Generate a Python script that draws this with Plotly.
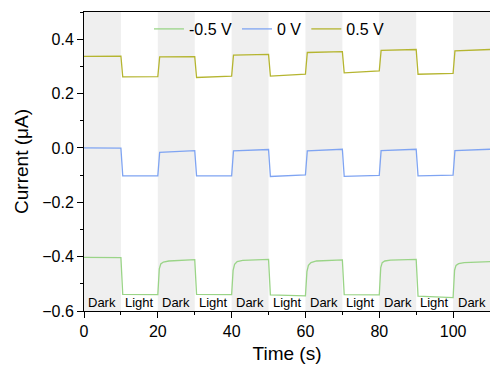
import plotly.graph_objects as go

# ---- data ----
t_main = [0, 10, 10.5, 20, 20.5, 30, 30.5, 40, 40.5, 50, 50.5, 60, 60.5, 70, 70.5, 80, 80.5, 90, 90.5, 100, 100.5, 110]
i_pos = [0.337, 0.338, 0.261, 0.262, 0.335, 0.336, 0.259, 0.264, 0.341, 0.344, 0.264, 0.271,
         0.351, 0.354, 0.276, 0.283, 0.359, 0.362, 0.271, 0.274, 0.357, 0.362]
i_zero = [0.0, -0.001, -0.103, -0.103, -0.016, -0.010, -0.103, -0.103, -0.011, -0.006, -0.105, -0.099,
          -0.011, -0.005, -0.105, -0.101, -0.010, -0.005, -0.103, -0.100, -0.010, -0.005]
t_neg = [0, 10, 10.5, 20, 20.4, 20.8, 21.5, 23, 30, 30.5, 40, 40.4, 40.8, 41.5, 43, 50, 50.5, 60,
         60.4, 60.8, 61.5, 63, 70, 70.5, 80, 80.4, 80.8, 81.5, 83, 90, 90.5, 100, 100.4, 100.8, 101.5, 103, 110]
i_neg = [-0.403, -0.404, -0.539, -0.540, -0.445, -0.427, -0.420, -0.416, -0.411, -0.539, -0.540,
         -0.450, -0.428, -0.418, -0.414, -0.410, -0.541, -0.544, -0.455, -0.432, -0.422, -0.416,
         -0.412, -0.540, -0.541, -0.440, -0.422, -0.416, -0.413, -0.410, -0.545, -0.551,
         -0.450, -0.432, -0.426, -0.422, -0.418]

series_names = ["-0.5 V", "0 V", "0.5 V"]
series_colors = ["#9ad487", "#7fa4f2", "#b5b530"]

period_starts = [0, 10, 20, 30, 40, 50, 60, 70, 80, 90, 100]
period_labels = ["Dark", "Light", "Dark", "Light", "Dark", "Light", "Dark", "Light", "Dark", "Light", "Dark"]
period_len = 10

FONT = "Arial, Liberation Sans, sans-serif"

fig = go.Figure()

# shaded dark periods
for s, lab in zip(period_starts, period_labels):
    if lab == "Dark":
        fig.add_shape(type="rect", xref="x", yref="paper", x0=s, x1=s + period_len, y0=0, y1=1,
                      fillcolor="#efefef", line_width=0, layer="below")
    fig.add_annotation(x=s + period_len / 2, y=-0.567, xref="x", yref="y", text=lab,
                       showarrow=False, font=dict(family=FONT, size=13, color="black"))

fig.add_trace(go.Scatter(x=t_neg, y=i_neg, mode="lines", name=series_names[0],
                         line=dict(color=series_colors[0], width=1.3)))
fig.add_trace(go.Scatter(x=t_main, y=i_zero, mode="lines", name=series_names[1],
                         line=dict(color=series_colors[1], width=1.3)))
fig.add_trace(go.Scatter(x=t_main, y=i_pos, mode="lines", name=series_names[2],
                         line=dict(color=series_colors[2], width=1.3)))

fig.update_layout(
    width=490, height=365,
    margin=dict(l=84, r=0, t=12, b=54),
    paper_bgcolor="white", plot_bgcolor="white",
    font=dict(family=FONT, size=16, color="black"),
    legend=dict(orientation="h", x=0.16, y=1.0, xanchor="left", yanchor="top",
                bgcolor="rgba(0,0,0,0)", font=dict(size=16), itemwidth=30,
                tracegroupgap=0),
    showlegend=True,
)
fig.update_xaxes(
    range=[0, 110], dtick=20, tick0=0, showgrid=False, zeroline=False,
    showline=True, linecolor="black", linewidth=1, mirror=True,
    ticks="outside", ticklen=6, tickcolor="black",
    minor=dict(dtick=10, ticks="outside", ticklen=3, tickcolor="black", showgrid=False),
    title=dict(text="Time (s)", font=dict(size=19), standoff=7),
    tickfont=dict(size=16), automargin=False,
)
fig.update_yaxes(
    range=[-0.6, 0.5], dtick=0.2, tick0=0, tickformat=".1f", showgrid=False, zeroline=False,
    showline=True, linecolor="black", linewidth=1,
    ticks="outside", ticklen=6, tickcolor="black",
    minor=dict(dtick=0.1, ticks="outside", ticklen=3, tickcolor="black", showgrid=False),
    title=dict(text="Current (μA)", font=dict(size=19), standoff=8),
    tickfont=dict(size=16), automargin=False,
)

fig.write_html("out.html", config={"displayModeBar": False},
               post_script="document.body.style.margin='0';document.body.style.overflow='hidden';")
